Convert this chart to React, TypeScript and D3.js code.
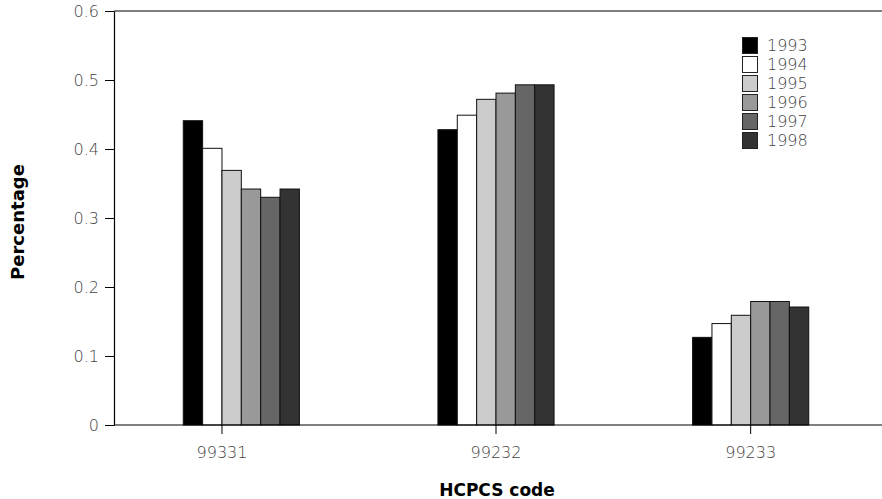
import * as d3 from "d3";
import { useEffect, useRef } from "react";

const codes = ["99331", "99232", "99233"];
const years = ["1993", "1994", "1995", "1996", "1997", "1998"];
const values1993 = [0.441, 0.428, 0.127];
const values1994 = [0.401, 0.449, 0.147];
const values1995 = [0.369, 0.472, 0.159];
const values1996 = [0.342, 0.481, 0.179];
const values1997 = [0.330, 0.493, 0.179];
const values1998 = [0.342, 0.493, 0.171];
const yTicks = [0, 0.1, 0.2, 0.3, 0.4, 0.5, 0.6];
const fills = ["#000000", "#ffffff", "#cccccc", "#999999", "#666666", "#333333"];

const W = 882;
const H = 499;
const FONT = "'DejaVu Sans', sans-serif";

const App = () => {
    const ref = useRef<SVGSVGElement | null>(null);

    useEffect(() => {
        const svg = d3.select(ref.current);
        svg.selectAll("*").remove();

        const series = [values1993, values1994, values1995, values1996, values1997, values1998];
        const data = codes.map((code, i) => ({
            code,
            vals: years.map((year, j) => ({ year, value: series[j][i] })),
        }));

        const left = 114, right = 882, top = 11, bottom = 425;

        const x0 = d3.scaleBand().domain(codes).range([left, 878]).paddingInner(0.544).paddingOuter(0.272);
        const x1 = d3.scaleBand().domain(years).range([0, x0.bandwidth()]);
        const y = d3.scaleLinear().domain([0, 0.6]).range([bottom, top]);
        const color = d3.scaleOrdinal<string, string>().domain(years).range(fills);

        // frame: top and bottom lines run to the edge, no right border
        svg.append("line").attr("x1", left).attr("x2", right).attr("y1", top).attr("y2", top)
            .attr("stroke", "#000").attr("stroke-width", 1.2);

        const groups = svg.selectAll(".grp")
            .data(data)
            .join("g")
            .attr("class", "grp")
            .attr("transform", (d) => `translate(${x0(d.code)},0)`);

        groups.selectAll("rect")
            .data((d) => d.vals)
            .join("rect")
            .attr("x", (d) => x1(d.year)!)
            .attr("y", (d) => y(d.value))
            .attr("width", x1.bandwidth())
            .attr("height", (d) => bottom - y(d.value))
            .attr("fill", (d) => color(d.year))
            .attr("stroke", "#111")
            .attr("stroke-width", 1);

        // y axis
        const yAxis = svg.append("g")
            .attr("transform", `translate(${left},0)`)
            .call(d3.axisLeft(y).tickValues(yTicks).tickFormat((d) => d3.format("")(+d)).tickSize(9).tickSizeOuter(0));
        yAxis.select(".domain").attr("stroke", "#000").attr("stroke-width", 1.2);
        yAxis.selectAll(".tick line").attr("stroke", "#000");
        yAxis.selectAll(".tick text")
            .attr("x", -15)
            .attr("font-family", FONT)
            .attr("font-weight", 200)
            .attr("font-size", 16)
            .attr("fill", "#444");

        // x axis: ticks sit at the group centres, except the first which the original shifts one bar left
        const tickX = (c: string, i: number) => x0(c)! + x0.bandwidth() / 2 - (i === 0 ? x1.bandwidth() : 0);
        svg.append("line").attr("x1", left).attr("x2", right).attr("y1", bottom).attr("y2", bottom)
            .attr("stroke", "#000").attr("stroke-width", 1.2);
        const xt = svg.append("g").selectAll("g").data(codes).join("g")
            .attr("transform", (c, i) => `translate(${tickX(c, i)},${bottom})`);
        xt.append("line").attr("y2", 9).attr("stroke", "#000");
        xt.append("text")
            .attr("y", 33)
            .attr("text-anchor", "middle")
            .attr("font-family", FONT)
            .attr("font-weight", 200)
            .attr("font-size", 16)
            .attr("fill", "#444")
            .text((c) => c);

        // titles
        svg.append("text")
            .attr("x", 497)
            .attr("y", 496)
            .attr("text-anchor", "middle")
            .attr("font-family", FONT)
            .attr("font-weight", 700)
            .attr("font-size", 17)
            .attr("fill", "#000")
            .text("HCPCS code");
        svg.append("text")
            .attr("transform", "translate(24,222) rotate(-90)")
            .attr("text-anchor", "middle")
            .attr("font-family", FONT)
            .attr("font-weight", 700)
            .attr("font-size", 18)
            .attr("fill", "#000")
            .text("Percentage");

        // legend
        const legend = svg.append("g").attr("transform", "translate(742,37)");
        const items = legend.selectAll("g").data(years).join("g")
            .attr("transform", (d, i) => `translate(0,${i * 19})`);
        items.append("rect")
            .attr("x", 0.5).attr("y", 0.5)
            .attr("width", 15).attr("height", 16)
            .attr("fill", (d) => color(d))
            .attr("stroke", "#222");
        items.append("text")
            .attr("x", 25)
            .attr("y", 14)
            .attr("font-family", FONT)
            .attr("font-weight", 200)
            .attr("font-size", 16)
            .attr("fill", "#444")
            .text((d) => d);
    }, []);

    return (
        <svg ref={ref} width={W} height={H}
            style={{ position: "absolute", left: 0, top: 0, background: "#fff" }} />
    );
};

export default App;
